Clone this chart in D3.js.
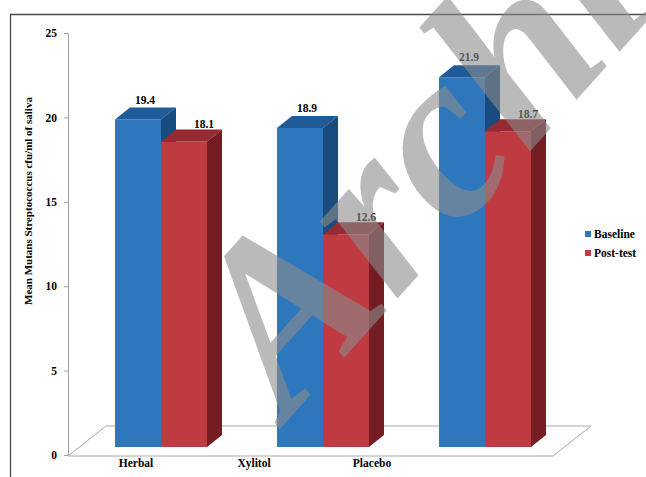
<!DOCTYPE html>
<html>
<head>
<meta charset="utf-8">
<script src="https://cdn.jsdelivr.net/npm/d3@7"></script>
<style>
  html, body { margin: 0; padding: 0; background: #fff; }
  svg { display: block; }
</style>
</head>
<body>
<svg id="chart" width="646" height="477"></svg>
<script>
// ---- data ----
const categories = ["Herbal", "Xylitol", "Placebo"];
const seriesNames = ["Baseline", "Post-test"];
const baseline = [19.4, 18.9, 21.9];
const postTest = [18.1, 12.6, 18.7];
const yTicks = [0, 5, 10, 15, 20, 25];
const yTitle = "Mean Mutans  Streptococcus cfu/ml of saliva";
const watermark = "Archive of SID";

// ---- styles ----
const FONT = "'Liberation Serif', 'Times New Roman', serif";
const faceColors = {
  "Baseline":  { front: "#2f77bc", top: "#1f5b98", side: "#1a4b7e" },
  "Post-test": { front: "#bf3a41", top: "#952a30", side: "#741d22" }
};

const svg = d3.select("#chart");
const W = 646, H = 477;

// frame
svg.append("line").attr("x1", 10).attr("y1", 14.5).attr("x2", W).attr("y2", 14.5)
  .attr("stroke", "#4a4a4a").attr("stroke-width", 1.3);
svg.append("line").attr("x1", 10.5).attr("y1", 14).attr("x2", 10.5).attr("y2", H)
  .attr("stroke", "#4a4a4a").attr("stroke-width", 1.3);

// scales
const y = d3.scaleLinear().domain([0, 25]).range([455, 33]);
const x0 = d3.scaleBand().domain(categories).range([80, 566])
  .paddingInner(0.432).paddingOuter(0.216);
const x1 = d3.scaleBand().domain(seriesNames).range([0, x0.bandwidth()]);
const xLabel = d3.scaleBand().domain(categories).range([77, 431]);

const axisX = 68;
const barBaseShift = 8;      // bars stand a little deeper than the front edge
const bdx = 15, bdy = -12;   // bar depth
const fdx = 38, fdy = -30;   // floor depth

// floor
const fy = y(0) + 1;
const fx0 = axisX, fx1 = 553;
svg.append("path")
  .attr("d", `M${fx0},${fy} L${fx1},${fy} L${fx1 + fdx},${fy + fdy} L${fx0 + fdx},${fy + fdy} Z`)
  .attr("fill", "none").attr("stroke", "#a9a9a9").attr("stroke-width", 1);

// y axis
const yAxis = d3.axisLeft(y).tickValues(yTicks).tickSize(4).tickSizeOuter(0).tickPadding(7);
const gy = svg.append("g").attr("transform", `translate(${axisX},0)`).call(yAxis);
gy.attr("font-family", null);
gy.select(".domain").attr("stroke", "#a0a0a0");
gy.selectAll(".tick line").attr("stroke", "#a0a0a0");
gy.selectAll(".tick text").attr("fill", "#000").attr("font-size", 11.5).attr("font-weight", "bold")
  .attr("font-family", FONT);

// y title
svg.append("text")
  .attr("transform", `translate(32,201) rotate(-90)`)
  .attr("text-anchor", "middle").attr("font-size", 11).attr("font-weight", "bold")
  .attr("font-family", FONT)
  .attr("fill", "#000").text(yTitle);

// bars
const rows = categories.map((c, i) => ({
  cat: c,
  vals: [
    { s: "Baseline", v: baseline[i] },
    { s: "Post-test", v: postTest[i] }
  ]
}));

const base = y(0) - barBaseShift;
rows.forEach(row => {
  row.vals.forEach(d => {
    const xl = x0(row.cat) + x1(d.s);
    const w = x1.bandwidth();
    const top = y(d.v) - barBaseShift;
    const col = faceColors[d.s];
    const g = svg.append("g");
    g.append("path").attr("d", `M${xl},${base} L${xl},${top} L${xl + w},${top} L${xl + w},${base} Z`)
      .attr("fill", col.front);
    g.append("path").attr("d", `M${xl},${top} L${xl + bdx},${top + bdy} L${xl + w + bdx},${top + bdy} L${xl + w},${top} Z`)
      .attr("fill", col.top);
    g.append("path").attr("d", `M${xl + w},${top} L${xl + w + bdx},${top + bdy} L${xl + w + bdx},${base + bdy} L${xl + w},${base} Z`)
      .attr("fill", col.side);
    // data label
    const lx = xl + w / 2 + (d.s === "Baseline" ? 7 : 20);
    const ly = top + (d.s === "Baseline" ? -16 : -13);
    svg.append("text").attr("x", lx).attr("y", ly).attr("text-anchor", "middle")
      .attr("font-size", 11.5).attr("font-weight", "bold").attr("fill", "#000")
      .attr("font-family", FONT)
      .text(d.v.toFixed(1));
  });
});

// category labels
svg.selectAll("text.cat").data(categories).enter().append("text")
  .attr("class", "cat")
  .attr("x", d => xLabel(d) + xLabel.bandwidth() / 2)
  .attr("y", 467).attr("text-anchor", "middle")
  .attr("font-size", 11.5).attr("font-weight", "bold").attr("fill", "#000")
  .attr("font-family", FONT)
  .text(d => d);

// legend
const lg = svg.append("g").attr("transform", "translate(585,231)");
seriesNames.forEach((s, i) => {
  lg.append("rect").attr("x", 0).attr("y", i * 19).attr("width", 6).attr("height", 6)
    .attr("fill", faceColors[s].front);
  lg.append("text").attr("x", 9).attr("y", i * 19 + 7)
    .attr("font-size", 11.5).attr("font-weight", "bold").attr("fill", "#000")
    .attr("font-family", FONT).text(s);
});

// watermark
svg.append("text")
  .attr("transform", "translate(288,420) rotate(-48)")
  .attr("font-size", 238).attr("font-style", "italic").attr("font-weight", "bold")
  .attr("font-family", FONT)
  .attr("fill", "#8c8c8c").attr("fill-opacity", 0.6)
  .text(watermark);
</script>
</body>
</html>
